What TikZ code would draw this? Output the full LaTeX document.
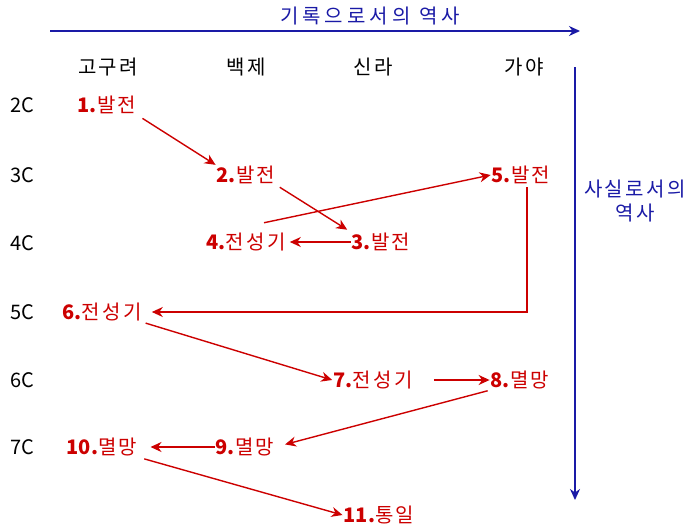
\documentclass[tikz,border=0pt]{standalone}
\usepackage{fontspec}
\setmainfont{Noto Sans CJK KR}[LetterSpace=12]
\newfontfamily\latinfont{Noto Sans CJK KR}
\newcommand{\evnum}[1]{{\latinfont\bfseries #1}}
\usetikzlibrary{arrows.meta,positioning}
\definecolor{histred}{RGB}{204,0,0}
\definecolor{histblue}{RGB}{26,26,166}

\begin{document}
\begin{tikzpicture}[x=1pt, y=-1pt,
	every node/.style={font=\fontsize{20}{24}\selectfont, inner sep=1pt},
	event/.style={text=histred},
	century/.style={font=\fontsize{20}{24}\selectfont\latinfont},
	flow/.style={draw=histred, line width=1.4pt, -{Stealth[length=11pt,width=10pt,inset=3.5pt]}},
	axis/.style={draw=histblue, line width=1.4pt, -{Stealth[length=11pt,width=10pt,inset=3.5pt]}}]
	\useasboundingbox (0,0) rectangle (688,530);

	% Axes: record on top, fact down the right
	\coordinate (topL) at (50,31);
	\coordinate (topR) at (580,31);
	\draw [axis] (topL) -- (topR);
	\node [text=histblue] (rec) at (370,16) {\addfontfeatures{LetterSpace=20}기록으로서의 역사};
	\coordinate (sideT) at (575,67);
	\coordinate (sideB) at (575,500);
	\draw [axis] (sideT) -- (sideB);
	\node [text=histblue, align=center] (fact) at (635,201) {사실로서의\\역사};

	% Kingdoms along the top
	\node (gogu) at (108,67) {고구려};
	\node (baek) at (246,67) {백제};
	\node (silla) at (373,67) {신라};
	\node (gaya) at (524,67) {가야};

	% Centuries down the left
	\node [century] (c2) at (22,105) {2C};
	\node [century] (c3) at (22,175) {3C};
	\node [century] (c4) at (22,243) {4C};
	\node [century] (c5) at (22,312) {5C};
	\node [century] (c6) at (22,380) {6C};
	\node [century] (c7) at (22,447) {7C};

	% Events, numbered in order
	\node [event] (s1) at (107,105) {\evnum{1.}발전};
	\node [event] (s2) at (246,175) {\evnum{2.}발전};
	\node [event] (s3) at (381,242) {\evnum{3.}발전};
	\node [event] (s4) at (246,242) {\evnum{4.}전성기};
	\node [event] (s5) at (521,175) {\evnum{5.}발전};
	\node [event] (s6) at (102,312) {\evnum{6.}전성기};
	\node [event] (s7) at (373,380) {\evnum{7.}전성기};
	\node [event] (s8) at (520,380) {\evnum{8.}멸망};
	\node [event] (s9) at (245,447) {\evnum{9.}멸망};
	\node [event] (s10) at (102,447) {\evnum{10.}멸망};
	\node [event] (s11) at (379,515) {\evnum{11.}통일};

	% Arrows between events
	\draw [flow, shorten <=6pt] (s1.south east) -- (s2.north west);
	\draw [flow, shorten <=4pt, shorten >=4pt] (s2.south east) -- (s3.north west);
	\draw [flow, shorten >=3pt] (s3.west) -- (s4.east);
	\draw [flow] ([xshift=18pt,yshift=9pt]s4.north) -- (s5.west);
	\draw [flow, shorten <=2pt, shorten >=9pt] ([xshift=6pt]s5.south) |- (s6.east);
	\draw [flow, shorten <=3pt] (s6.south east) -- (s7.west);
	\draw [flow, shorten <=20pt] (s7.east) -- (s8.west);
	\draw [flow, shorten <=2pt, shorten >=10pt] (s8.south west) -- (s9.east);
	\draw [flow, shorten >=12pt] (s9.west) -- (s10.east);
	\draw [flow, shorten <=6pt] (s10.south east) -- (s11.west);
\end{tikzpicture}
\end{document}
